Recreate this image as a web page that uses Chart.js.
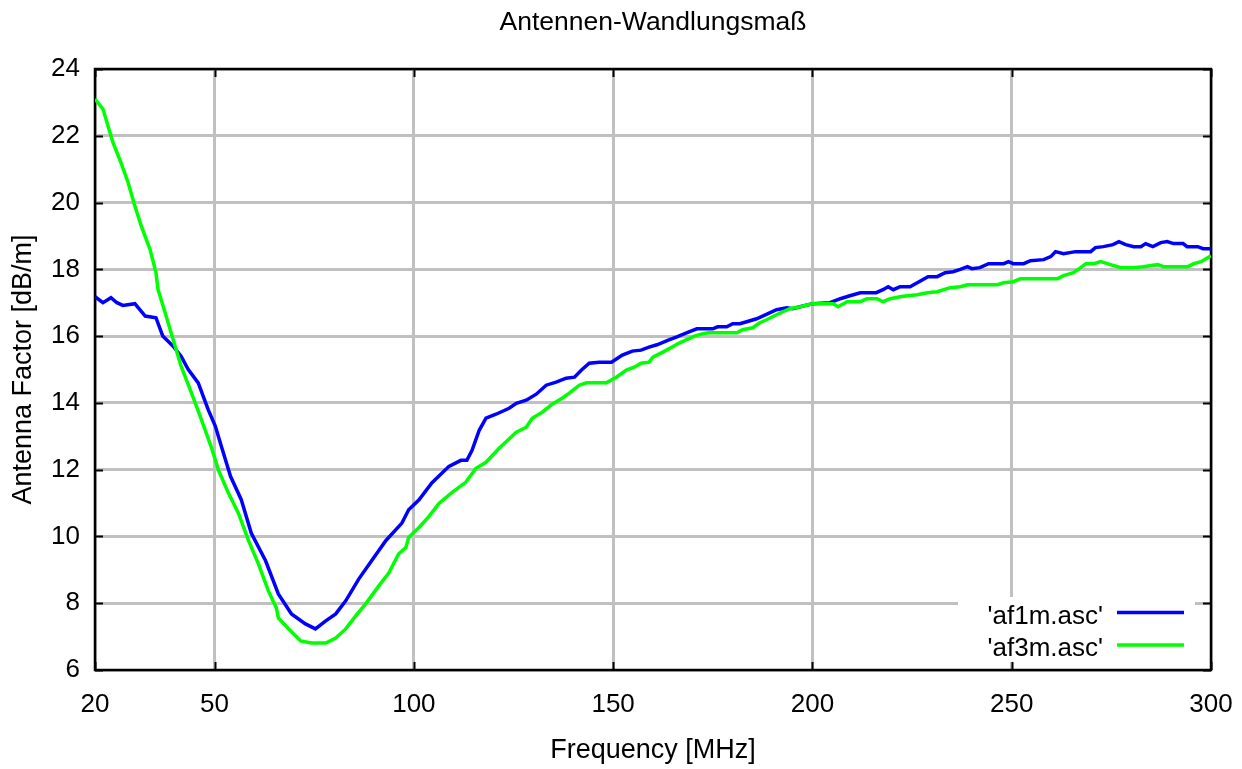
<!DOCTYPE html>
<html>
<head>
<meta charset="utf-8">
<script src="https://cdn.jsdelivr.net/npm/chart.js@4/dist/chart.umd.min.js"></script>
<style>
html,body{margin:0;padding:0;background:#fff;}
canvas{display:block;}
</style>
</head>
<body>
<canvas id="c" width="1242" height="769"></canvas>
<script>
const chartTitle = "Antennen-Wandlungsmaß";
const xTitle = "Frequency [MHz]";
const yTitle = "Antenna Factor [dB/m]";
const xTicks = [20, 50, 100, 150, 200, 250, 300];
const yTicks = [6, 8, 10, 12, 14, 16, 18, 20, 22, 24];
const seriesNames = ["'af1m.asc'", "'af3m.asc'"];

const freq1m = [20,22,24,25.5,27,30,32.6,35.3,37,39.6,41.6,43.4,45.9,48.4,50.2,51.7,54,56.7,59.2,62.8,66,69.3,72.8,75.3,77.9,80.4,82.9,86.2,89.4,93,97,98.7,101.3,104.5,108.8,111.8,113.3,114.6,116.4,118.1,120.6,123.9,125.7,128.2,130.7,133.2,135.7,138.2,140.3,142,144,146.5,149.6,152.3,154.8,157,159,161,164,166,168.4,171,175,176.2,178.5,180,181.8,183.5,186,187.5,191,193.6,195,196.9,200,204.4,207,209.4,212,216,217.7,219,220.3,222,224.5,226.3,229,231.3,233.3,235.3,237.1,238.9,240,242,244.2,248,249.2,250.4,253,254.7,258,259.8,261,263,266,269.8,271,273,275.4,276.9,278.6,280.6,282.4,283.6,285.4,287.4,289,290.6,293,294,296.7,298,300];
const af1m = [17.18,17.0,17.15,17.0,16.92,16.97,16.6,16.55,16.0,15.7,15.4,15.0,14.6,13.8,13.3,12.7,11.8,11.1,10.1,9.27,8.28,7.68,7.38,7.23,7.47,7.68,8.07,8.73,9.27,9.88,10.4,10.8,11.1,11.6,12.1,12.28,12.28,12.58,13.18,13.54,13.66,13.84,13.99,14.08,14.26,14.53,14.62,14.74,14.77,14.98,15.19,15.22,15.22,15.43,15.55,15.58,15.67,15.74,15.89,15.98,16.1,16.22,16.22,16.28,16.28,16.37,16.37,16.43,16.52,16.6,16.79,16.85,16.82,16.88,16.97,17.0,17.12,17.21,17.3,17.3,17.39,17.48,17.39,17.48,17.48,17.6,17.78,17.78,17.9,17.93,18.0,18.08,18.02,18.05,18.17,18.17,18.23,18.17,18.17,18.26,18.29,18.38,18.53,18.47,18.53,18.53,18.65,18.68,18.74,18.83,18.74,18.68,18.68,18.77,18.68,18.8,18.83,18.77,18.77,18.68,18.68,18.62,18.62];

const freq3m = [20,22,24.5,26.5,28.3,30,31.6,33.8,35.3,35.8,37.6,39.6,41.6,44.2,46.7,49.2,51,53.5,56,58.5,61,63.5,65.5,66,68.6,71.6,74.3,77.9,80.4,82.9,85.4,87.9,91.2,93.7,96.2,98,98.7,101.3,103.8,106.3,109.6,113,115.6,118.1,121.4,125.7,128.2,129.7,132.2,134.7,137.2,139,141.5,143.3,148.3,150.8,153.3,155.3,157,159,160,163.4,166.7,170.4,172.5,174,181,182.5,185,186.8,188.5,191,192.6,194.3,196.9,200,205.2,206.4,208.7,212,213.7,216.2,217.7,219.5,222,223.8,226.3,228.8,231.3,234.6,237.1,238.9,246.4,248,250.4,252.2,261.5,263,265.5,267.3,268.6,270.6,272.3,274.8,277.4,280.6,283,286.6,288.1,294.2,295.7,297.5,300];
const af3m = [23.1,22.8,21.8,21.2,20.6,19.9,19.3,18.6,17.9,17.4,16.7,15.9,15.1,14.3,13.5,12.67,11.98,11.29,10.69,9.88,9.18,8.37,7.86,7.56,7.23,6.87,6.81,6.81,6.96,7.23,7.62,7.98,8.52,8.9,9.48,9.67,9.97,10.27,10.6,10.99,11.32,11.62,12.04,12.22,12.64,13.12,13.27,13.54,13.72,13.96,14.14,14.29,14.53,14.6,14.6,14.77,14.98,15.07,15.19,15.22,15.37,15.58,15.8,16.0,16.07,16.1,16.1,16.19,16.25,16.4,16.49,16.64,16.73,16.82,16.88,16.97,16.97,16.88,17.03,17.03,17.12,17.12,17.03,17.12,17.18,17.21,17.24,17.3,17.33,17.45,17.48,17.54,17.54,17.6,17.63,17.72,17.72,17.81,17.9,18.05,18.17,18.17,18.23,18.14,18.05,18.05,18.08,18.14,18.08,18.08,18.17,18.23,18.41];

const FONT = "'Liberation Sans', Arial, Helvetica, sans-serif";

const toPoints = (xs, ys) => xs.map((x, i) => ({x: x, y: ys[i]}));

const frameAndTicks = {
  id: 'frameAndTicks',
  beforeDatasetsDraw(chart) {
    const {ctx, chartArea: a, scales} = chart;
    ctx.save();
    ctx.strokeStyle = '#000';
    ctx.lineWidth = 2;
    const tl = 8;
    ctx.beginPath();
    xTicks.forEach(v => {
      const px = Math.round(scales.x.getPixelForValue(v)) + 0.5;
      ctx.moveTo(px, a.bottom); ctx.lineTo(px, a.bottom - tl);
      ctx.moveTo(px, a.top); ctx.lineTo(px, a.top + tl);
    });
    yTicks.forEach(v => {
      const py = Math.round(scales.y.getPixelForValue(v)) + 0.5;
      ctx.moveTo(a.left, py); ctx.lineTo(a.left + tl, py);
      ctx.moveTo(a.right, py); ctx.lineTo(a.right - tl, py);
    });
    ctx.stroke();
    ctx.lineWidth = 2.5;
    ctx.strokeRect(a.left, a.top, a.right - a.left, a.bottom - a.top);
    ctx.restore();
  }
};

const boxLegend = {
  id: 'boxLegend',
  afterDatasetsDraw(chart) {
    const {ctx} = chart;
    ctx.save();
    ctx.fillStyle = '#fff';
    ctx.fillRect(958, 597, 237, 65);
    ctx.font = '26px ' + FONT;
    ctx.textAlign = 'right';
    ctx.textBaseline = 'alphabetic';
    const baselines = [624, 656];
    const lineYs = [612.5, 645];
    chart.data.datasets.forEach((ds, i) => {
      ctx.fillStyle = '#000';
      ctx.fillText(ds.label, 1103, baselines[i]);
      ctx.strokeStyle = ds.borderColor;
      ctx.lineWidth = 3.5;
      ctx.beginPath();
      ctx.moveTo(1117, lineYs[i]);
      ctx.lineTo(1184, lineYs[i]);
      ctx.stroke();
    });
    ctx.restore();
  }
};

new Chart(document.getElementById('c'), {
  type: 'scatter',
  data: {
    datasets: [
      {label: seriesNames[0], data: toPoints(freq1m, af1m), showLine: true, borderColor: '#0000ff', backgroundColor: '#0000ff', borderWidth: 3.5, pointRadius: 0, tension: 0, order: 2},
      {label: seriesNames[1], data: toPoints(freq3m, af3m), showLine: true, borderColor: '#00ff00', backgroundColor: '#00ff00', borderWidth: 3.5, pointRadius: 0, tension: 0, order: 1}
    ]
  },
  options: {
    responsive: false,
    devicePixelRatio: 1,
    animation: false,
    layout: {padding: {top: 0, right: 31, bottom: 0, left: 0}},
    plugins: {
      legend: {display: false},
      tooltip: {enabled: false},
      title: {
        display: true,
        text: chartTitle,
        fullSize: false,
        color: '#000',
        font: {family: FONT, size: 26.5, weight: 'normal'},
        padding: {top: 7, bottom: 30.2}
      }
    },
    scales: {
      x: {
        type: 'linear',
        min: 20, max: 300,
        afterBuildTicks: s => { s.ticks = xTicks.map(v => ({value: v})); },
        afterFit: s => { s.height = 99; s.paddingLeft = 0; s.paddingRight = 0; },
        grid: {color: 'rgb(192,192,192)', lineWidth: 3, drawTicks: false},
        border: {display: false},
        ticks: {color: '#000', font: {family: FONT, size: 26}, padding: 19, maxRotation: 0, autoSkip: false},
        title: {display: true, text: xTitle, color: '#000', font: {family: FONT, size: 27}, padding: {top: 0, bottom: 2}}
      },
      y: {
        type: 'linear',
        min: 6, max: 24,
        afterBuildTicks: s => { s.ticks = yTicks.map(v => ({value: v})); },
        afterFit: s => { s.width = 95; s.paddingTop = 0; s.paddingBottom = 0; },
        grid: {color: 'rgb(192,192,192)', lineWidth: 3, drawTicks: false},
        border: {display: false},
        ticks: {color: '#000', font: {family: FONT, size: 26}, padding: 15, autoSkip: false},
        title: {display: true, text: yTitle, color: '#000', font: {family: FONT, size: 27}, padding: {top: 7, bottom: 0}}
      }
    }
  },
  plugins: [frameAndTicks, boxLegend]
});
</script>
</body>
</html>
